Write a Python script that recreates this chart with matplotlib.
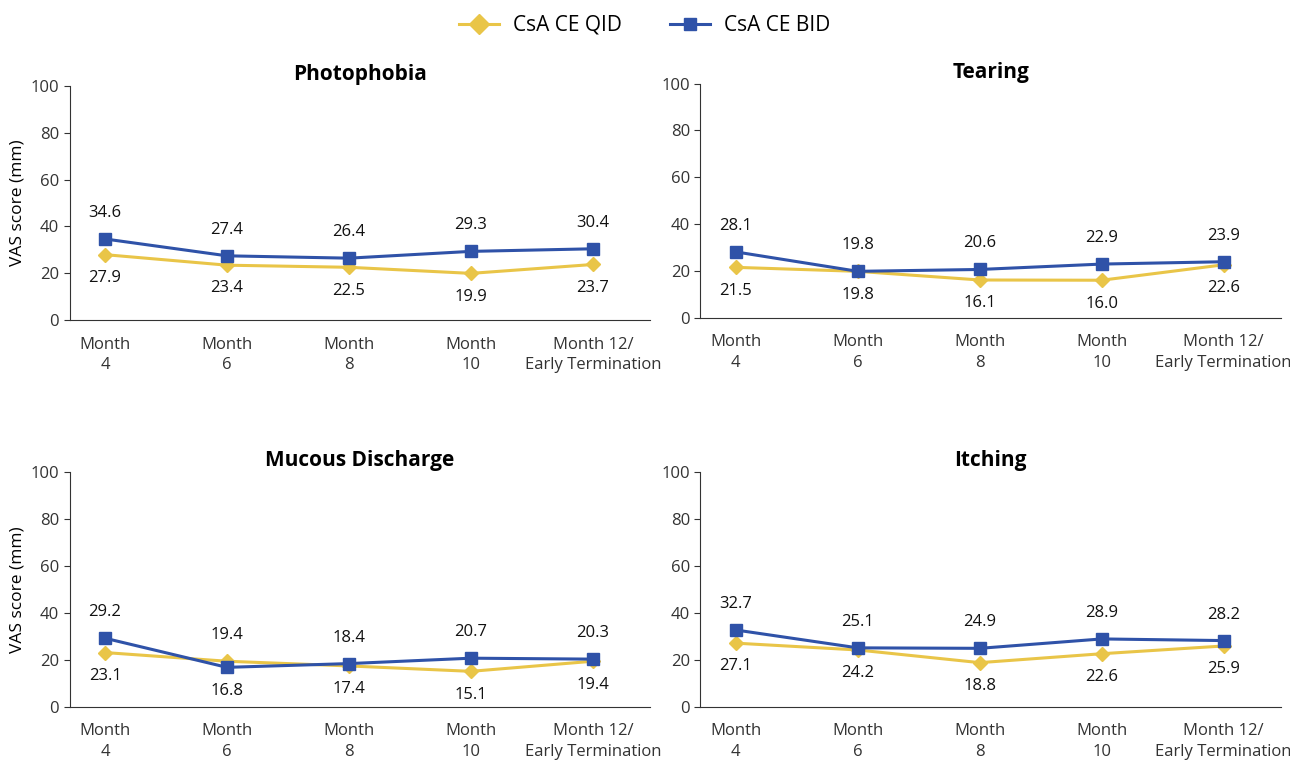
import matplotlib
matplotlib.use("Agg")
import numpy as np
import matplotlib.pyplot as plt
from matplotlib.lines import Line2D

plt.rcParams['font.family'] = ['Open Sans', 'DejaVu Sans']

months = ['Month\n4', 'Month\n6', 'Month\n8', 'Month\n10', 'Month 12/\nEarly Termination']
titles = ['Photophobia', 'Tearing', 'Mucous Discharge', 'Itching']

qid_photophobia = [27.9, 23.4, 22.5, 19.9, 23.7]
bid_photophobia = [34.6, 27.4, 26.4, 29.3, 30.4]
qid_tearing = [21.5, 19.8, 16.1, 16.0, 22.6]
bid_tearing = [28.1, 19.8, 20.6, 22.9, 23.9]
qid_mucous = [23.1, 19.4, 17.4, 15.1, 19.4]
bid_mucous = [29.2, 16.8, 18.4, 20.7, 20.3]
qid_itching = [27.1, 24.2, 18.8, 22.6, 25.9]
bid_itching = [32.7, 25.1, 24.9, 28.9, 28.2]

qid = [qid_photophobia, qid_tearing, qid_mucous, qid_itching]
bid = [bid_photophobia, bid_tearing, bid_mucous, bid_itching]

yellow = '#E9C548'
blue = '#2F52A8'

fig = plt.figure(figsize=(12.9, 7.6), dpi=100)
rects = [
    [0.054, 0.579, 0.450, 0.308],
    [0.543, 0.582, 0.450, 0.308],
    [0.054, 0.070, 0.450, 0.309],
    [0.543, 0.070, 0.450, 0.309],
]

x = np.arange(len(months))
for i, r in enumerate(rects):
    ax = fig.add_axes(r)
    ax.plot(x, qid[i], color=yellow, lw=2.2, marker='D', ms=7, mec=yellow, mfc=yellow)
    ax.plot(x, bid[i], color=blue, lw=2.2, marker='s', ms=8, mec=blue, mfc=blue)
    for j in range(len(x)):
        q, b = qid[i][j], bid[i][j]
        if b >= q:
            hi, lo = b, q
        else:
            hi, lo = q, b
        ax.annotate(f'{hi:.1f}', (x[j], hi), xytext=(0, 13), textcoords='offset points',
                    ha='center', va='bottom', fontsize=12, color='#111111')
        ax.annotate(f'{lo:.1f}', (x[j], lo), xytext=(0, -11), textcoords='offset points',
                    ha='center', va='top', fontsize=12, color='#111111')
    ax.set_xlim(-0.29, 4.47)
    ax.set_ylim(0, 100)
    ax.set_yticks([0, 20, 40, 60, 80, 100])
    ax.set_xticks(x)
    ax.set_xticklabels(months, fontsize=12, color='#333333', linespacing=1.35)
    ax.tick_params(axis='x', length=0, pad=12)
    ax.tick_params(axis='y', labelsize=12, labelcolor='#333333', length=4, color='#333333')
    ax.spines['top'].set_visible(False)
    ax.spines['right'].set_visible(False)
    ax.spines['left'].set_color('#333333')
    ax.spines['bottom'].set_color('#333333')
    ax.set_title(titles[i], fontsize=15, fontweight='bold', pad=4)
    if i % 2 == 0:
        ax.set_ylabel('VAS score (mm)', fontsize=12.5, labelpad=4)

handles = [
    Line2D([], [], color=yellow, lw=2.2, marker='D', ms=10, mec=yellow, label='CsA CE QID'),
    Line2D([], [], color=blue, lw=2.2, marker='s', ms=8, mec=blue, label='CsA CE BID'),
]
fig.legend(handles=handles, loc='upper center', bbox_to_anchor=(0.5, 1.005), ncol=2,
           frameon=False, fontsize=15, handlelength=1.9, handletextpad=0.7,
           columnspacing=2.3)

fig.savefig('out.png', dpi=100)
